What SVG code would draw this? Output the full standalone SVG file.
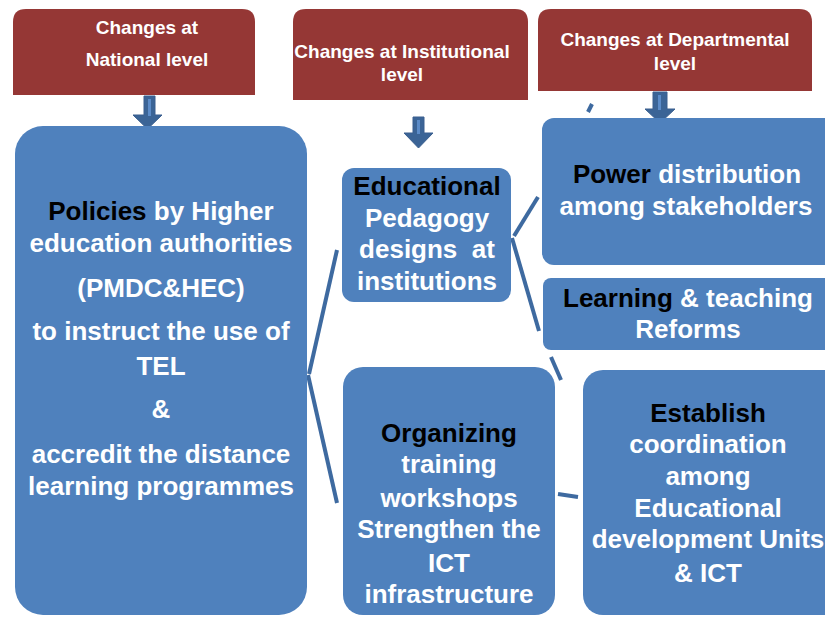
<svg xmlns="http://www.w3.org/2000/svg" width="825" height="617" viewBox="0 0 825 617">
<style>
.hdr{fill:#953735}
.box{fill:#4f81bd}
.arr{fill:#3b6496;stroke:#3a5f8f;stroke-width:1}
.stripe{fill:#5b8bc8}
.con{stroke:#3e6aa0;stroke-width:4;fill:none;stroke-linecap:butt}
.ht{font-family:"Liberation Sans",Arial,sans-serif;font-weight:bold;font-size:19px;fill:#fff;text-anchor:middle}
.bt{font-family:"Liberation Sans",Arial,sans-serif;font-weight:bold;font-size:26px;fill:#fff;text-anchor:middle}
.k{fill:#000}
</style>
<rect width="825" height="617" fill="#fff"/>
<g id="connectors">
<line class="con" x1="309" y1="374" x2="337" y2="250"/>
<line class="con" x1="308" y1="375" x2="337" y2="503"/>
<line class="con" x1="514" y1="236" x2="538" y2="197"/>
<line class="con" x1="512" y1="238" x2="539" y2="331"/>
<line class="con" x1="551" y1="357" x2="561" y2="380"/>
<line class="con" x1="558" y1="494" x2="578" y2="497"/>
<line class="con" x1="592" y1="104" x2="588" y2="112"/>
</g>
<g id="national-header">
<path class="hdr" d="M13,95 V22 Q13,9 26,9 H242 Q255,9 255,22 V95 Z"/>
<text class="ht" x="147" y="34">Changes at</text>
<text class="ht" x="147" y="66">National level</text>
</g>
<g id="institutional-header">
<path class="hdr" d="M293,100 V22 Q293,9 306,9 H515 Q528,9 528,22 V100 Z"/>
<text class="ht" x="402" y="58">Changes at Institutional</text>
<text class="ht" x="402" y="81">level</text>
</g>
<g id="departmental-header">
<path class="hdr" d="M538,91 V22 Q538,9 551,9 H799 Q812,9 812,22 V91 Z"/>
<text class="ht" x="675" y="46">Changes at Departmental</text>
<text class="ht" x="675" y="70">level</text>
</g>
<g id="arrow-national">
<path class="arr" d="M144,96 H155 V115 H162 L147.5,129 L133,115 H144 Z"/>
<rect class="stripe" x="148" y="99" width="3" height="17"/>
</g>
<g id="arrow-institutional">
<path class="arr" d="M413,117 H424 V133 H433 L418.5,148 L404,133 H413 Z"/>
<rect class="stripe" x="417" y="120" width="3" height="14"/>
</g>
<g id="arrow-departmental">
<path class="arr" d="M653,92 H667 V109 H675 L660,123 L645,109 H653 Z"/>
<rect class="stripe" x="658" y="95" width="3" height="15"/>
</g>
<g id="policies">
<rect class="box" x="15" y="126" width="292" height="489" rx="28" ry="28"/>
<text class="bt" x="161" y="220"><tspan class="k">Policies</tspan> by Higher</text>
<text class="bt" x="161" y="252">education authorities</text>
<text class="bt" x="161" y="297">(PMDC&amp;HEC)</text>
<text class="bt" x="161" y="340">to instruct the use of</text>
<text class="bt" x="161" y="375">TEL</text>
<text class="bt" x="161" y="418">&amp;</text>
<text class="bt" x="161" y="463">accredit the distance</text>
<text class="bt" x="161" y="495">learning programmes</text>
</g>
<g id="educational">
<rect class="box" x="342" y="168" width="169" height="134" rx="12" ry="12"/>
<text class="bt" x="427" y="195"><tspan class="k">Educational</tspan></text>
<text class="bt" x="427" y="227">Pedagogy</text>
<text class="bt" x="427" y="258" xml:space="preserve">designs  at</text>
<text class="bt" x="427" y="290">institutions</text>
</g>
<g id="power">
<rect class="box" x="542" y="118" width="300" height="147" rx="12" ry="12"/>
<text class="bt" x="687" y="183"><tspan class="k">Power</tspan> distribution</text>
<text class="bt" x="686" y="215">among stakeholders</text>
</g>
<g id="learning">
<rect class="box" x="543" y="278" width="300" height="72" rx="8" ry="8"/>
<text class="bt" x="688" y="307"><tspan class="k">Learning</tspan> &amp; teaching</text>
<text class="bt" x="688" y="338">Reforms</text>
</g>
<g id="organizing">
<rect class="box" x="343" y="367" width="212" height="248" rx="20" ry="20"/>
<text class="bt" x="449" y="442"><tspan class="k">Organizing</tspan></text>
<text class="bt" x="449" y="473">training</text>
<text class="bt" x="449" y="507">workshops</text>
<text class="bt" x="449" y="538">Strengthen the</text>
<text class="bt" x="449" y="572">ICT</text>
<text class="bt" x="449" y="603">infrastructure</text>
</g>
<g id="establish">
<rect class="box" x="583" y="370" width="260" height="245" rx="20" ry="20"/>
<text class="bt" x="708" y="422"><tspan class="k">Establish</tspan></text>
<text class="bt" x="708" y="453">coordination</text>
<text class="bt" x="708" y="485">among</text>
<text class="bt" x="708" y="517">Educational</text>
<text class="bt" x="708" y="548">development Units</text>
<text class="bt" x="708" y="582">&amp; ICT</text>
</g>
</svg>
